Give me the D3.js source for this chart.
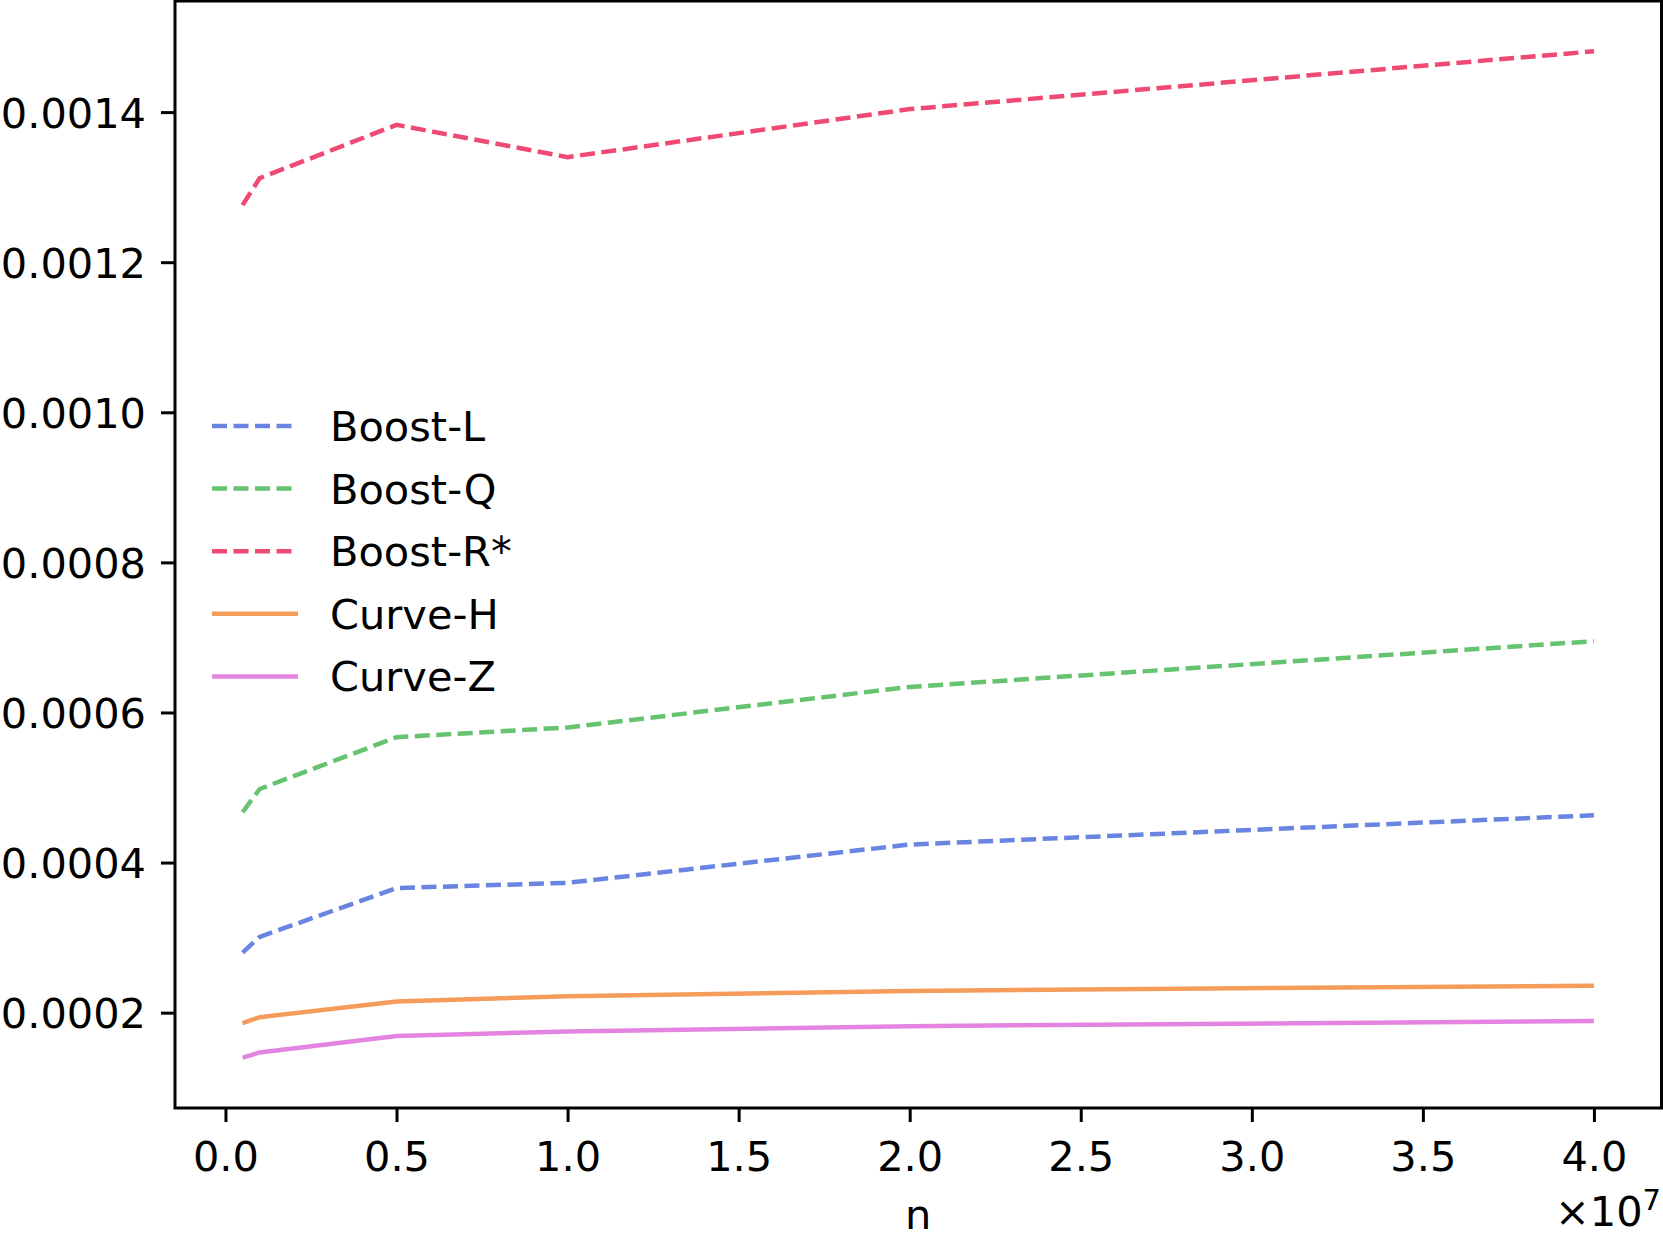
<!DOCTYPE html>
<html>
<head>
<meta charset="utf-8">
<script src="https://cdn.jsdelivr.net/npm/d3@7"></script>
<style>
    body { margin: 0; background: #fff; }
    svg { display: block; font-family: 'DejaVu Sans', sans-serif; }
</style>
</head>
<body>
<svg id="chart"></svg>
<script>
const nValues = [5e5, 1e6, 5e6, 1e7, 2e7, 4e7];
const boostL = [0.000280, 0.000301, 0.000366, 0.000373, 0.000424, 0.000463];
const boostQ = [0.000467, 0.000498, 0.000567, 0.000580, 0.000634, 0.000695];
const boostR = [0.001276, 0.001312, 0.001383, 0.001340, 0.001404, 0.001481];
const curveH = [0.000186, 0.000194, 0.000215, 0.000222, 0.000229, 0.000236];
const curveZ = [0.000140, 0.000147, 0.000169, 0.000175, 0.000182, 0.000189];
const seriesNames = ['Boost-L', 'Boost-Q', 'Boost-R*', 'Curve-H', 'Curve-Z'];
const seriesColors = ['#6a84e1', '#66c36f', '#ee4a74', '#f59b5b', '#e385e0'];
const seriesDashed = [true, true, true, false, false];
const xTicks = [0, 0.5e7, 1e7, 1.5e7, 2e7, 2.5e7, 3e7, 3.5e7, 4e7];
const yTicks = [0.0002, 0.0004, 0.0006, 0.0008, 0.0010, 0.0012, 0.0014];

const width = 1663;
const height = 1238;
const margin = { top: 1, right: 1.5, bottom: 130, left: 175 };
const fontSize = 41.5;
const lineW = 4.5;
const dash = '15 6.5';

const allSeries = [boostL, boostQ, boostR, curveH, curveZ];

function padded(extent) {
    const pad = (extent[1] - extent[0]) * 0.05;
    return [extent[0] - pad, extent[1] + pad];
}

const x = d3.scaleLinear()
    .domain(padded(d3.extent(nValues)))
    .range([margin.left, width - margin.right]);

const y = d3.scaleLinear()
    .domain(padded(d3.extent(allSeries.flat())))
    .range([height - margin.bottom, margin.top]);

const svg = d3.select('#chart')
    .attr('width', width)
    .attr('height', height);

svg.append('rect')
    .attr('width', width).attr('height', height)
    .attr('fill', '#fff');

const line = d3.line()
    .x((d, i) => x(nValues[i]))
    .y(d => y(d));

svg.append('g')
    .attr('fill', 'none')
    .selectAll('path')
    .data(allSeries)
    .join('path')
    .attr('stroke', (d, i) => seriesColors[i])
    .attr('stroke-width', lineW)
    .attr('stroke-dasharray', (d, i) => seriesDashed[i] ? dash : null)
    .attr('d', line);

// x axis
const xAxis = svg.append('g')
    .attr('transform', `translate(0,${height - margin.bottom})`)
    .call(d3.axisBottom(x)
        .tickValues(xTicks)
        .tickSize(14)
        .tickPadding(17)
        .tickFormat(d => (d / 1e7).toFixed(1)));

// y axis
const yAxis = svg.append('g')
    .attr('transform', `translate(${margin.left},0)`)
    .call(d3.axisLeft(y)
        .tickValues(yTicks)
        .tickSize(14)
        .tickPadding(15)
        .tickFormat(d3.format('.4f')));

for (const ax of [xAxis, yAxis]) {
    ax.select('.domain').remove();
    ax.selectAll('line').attr('stroke', '#000').attr('stroke-width', 3);
    ax.selectAll('text')
        .attr('fill', '#000')
        .attr('font-size', fontSize)
        .attr('font-family', 'DejaVu Sans, sans-serif');
}
yAxis.selectAll('text').attr('dy', '0.36em');
xAxis.selectAll('text').attr('dy', '0.76em');

// frame
svg.append('rect')
    .attr('x', margin.left)
    .attr('y', margin.top)
    .attr('width', width - margin.right - margin.left)
    .attr('height', height - margin.bottom - margin.top)
    .attr('fill', 'none')
    .attr('stroke', '#000')
    .attr('stroke-width', 3);

// axis label and offset text
svg.append('text')
    .attr('x', (margin.left + width - margin.right) / 2)
    .attr('y', 1229)
    .attr('text-anchor', 'middle')
    .attr('font-size', fontSize)
    .text('n');

const offset = svg.append('text')
    .attr('x', 1661)
    .attr('y', 1226)
    .attr('text-anchor', 'end')
    .attr('font-size', fontSize);
offset.append('tspan').text('×10');
offset.append('tspan')
    .attr('dy', -16)
    .attr('font-size', 29)
    .text('7');

// legend
const legend = svg.append('g')
    .selectAll('g')
    .data(seriesNames)
    .join('g')
    .attr('transform', (d, i) => `translate(0,${426 + i * 62.6})`);

legend.append('line')
    .attr('x1', 212).attr('x2', 298)
    .attr('stroke', (d, i) => seriesColors[i])
    .attr('stroke-width', lineW)
    .attr('stroke-dasharray', (d, i) => seriesDashed[i] ? dash : null);

legend.append('text')
    .attr('x', 330)
    .attr('dy', '0.36em')
    .attr('font-size', fontSize)
    .text(d => d);
</script>
</body>
</html>
